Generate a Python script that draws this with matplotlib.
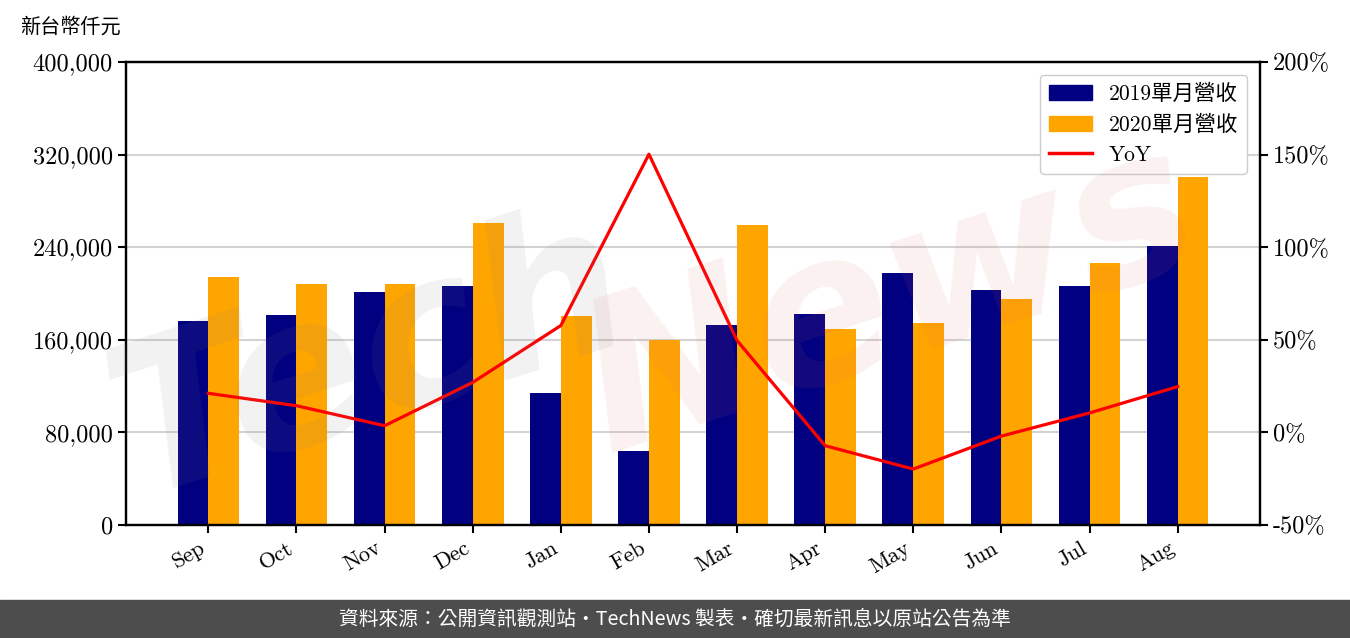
import matplotlib
matplotlib.use("Agg")
import matplotlib.pyplot as plt
import numpy as np
from matplotlib.patches import Patch
from matplotlib.lines import Line2D

plt.rcParams['font.family'] = ['cmr10', 'Noto Sans CJK TC', 'DejaVu Sans']

months = ["Sep", "Oct", "Nov", "Dec", "Jan", "Feb", "Mar", "Apr", "May", "Jun", "Jul", "Aug"]
rev2019 = [176500, 181400, 201300, 206500, 114000, 63900, 172800, 182300, 217700, 203000, 206500, 241000]
rev2020 = [214300, 208200, 208200, 260900, 180600, 160100, 259200, 169300, 174500, 195200, 226300, 300600]
yoy = [21.1, 14.4, 3.6, 27.0, 57.7, 150.2, 49.6, -7.2, -19.8, -2.0, 10.5, 24.7]

left_ticks = [0, 80000, 160000, 240000, 320000, 400000]
right_ticks = [-50, 0, 50, 100, 150, 200]

fig = plt.figure(figsize=(13.5, 6.38), dpi=100)
ax = fig.add_axes([126/1350, 1-525/638, (1260-126)/1350, (525-62)/638])
ax2 = ax.twinx()

x = np.arange(len(months))
w = 0.35
ax.bar(x - w/2, rev2019, w, color="navy", zorder=2)
ax.bar(x + w/2, rev2020, w, color="orange", zorder=2)
ax.set_ylim(0, 400000)
ax.set_yticks(left_ticks)
ax.set_yticklabels([f"{v:,}" for v in left_ticks])
ax.set_xticks(x)
ax.set_xticklabels(months, rotation=30, ha="right")
ax.grid(axis="y", color="#d3d3d3", lw=1.5)
ax.set_axisbelow(True)

ax2.plot(x, yoy, color="red", lw=2.3, zorder=3)
ax2.set_ylim(-50, 200)
ax2.set_yticks(right_ticks)
ax2.set_yticklabels([f"{v}%" for v in right_ticks])

for a in (ax, ax2):
    for s in a.spines.values():
        s.set_linewidth(1.6)
        s.set_color("black")
    a.tick_params(axis="y", labelsize=17.5, width=1.5, length=6)
    a.tick_params(axis="x", labelsize=16, width=1.5, length=6)

handles = [Patch(color="navy", label="2019單月營收"),
           Patch(color="orange", label="2020單月營收"),
           Line2D([0], [0], color="red", lw=2.5, label="YoY")]
leg = ax2.legend(handles=handles, loc="upper right", fontsize=15.5, framealpha=1,
                 edgecolor="#cccccc", borderaxespad=0.6)
leg.set_zorder(5)

# watermark
fig.text(370/1350, 1-360/638, "Tech", fontsize=150, color="gray", alpha=0.1,
         rotation=18, ha="center", va="center", family="DejaVu Sans",
         fontweight="bold", style="italic", zorder=10)
fig.text(890/1350, 1-300/638, "News", fontsize=150, color="#e06060", alpha=0.09,
         rotation=18, ha="center", va="center", family="DejaVu Sans",
         fontweight="bold", style="italic", zorder=10)

fig.text(20/1350, 1-27/638, "新台幣仟元", fontsize=14.5, ha="left", va="center",
         family=["Noto Sans CJK TC"])

# footer
fig.patches.append(plt.Rectangle((0, 0), 1, 38/638, transform=fig.transFigure,
                                 color="#4d4d4d", zorder=0))
fig.text(0.5, 19/638, "資料來源：公開資訊觀測站・TechNews 製表・確切最新訊息以原站公告為準",
         color="white", fontsize=14.2, ha="center", va="center",
         family=["Noto Sans CJK TC", "DejaVu Sans"])

fig.savefig("out.png", dpi=100)
